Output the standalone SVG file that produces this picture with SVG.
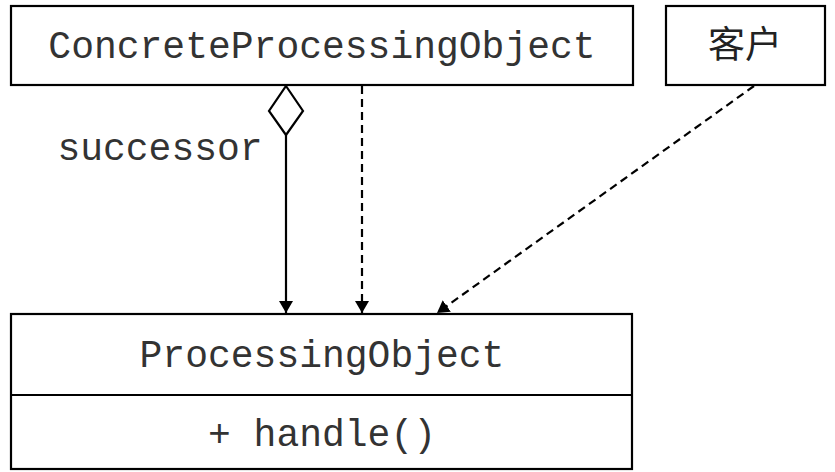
<svg xmlns="http://www.w3.org/2000/svg" width="835" height="472" viewBox="0 0 835 472">
<style>
.box{fill:#fff;stroke:#000;stroke-width:2.2}
.t{font-family:"Liberation Mono","Courier New",monospace;font-size:38px;fill:#333;text-anchor:middle}
.cjk{font-family:"Liberation Serif","Noto Sans CJK SC",serif;font-size:37px;fill:#222;text-anchor:middle}
.line{fill:none;stroke:#000;stroke-width:2.2}
.dash{stroke-dasharray:8 5}
</style>
<defs>
<marker id="arr" markerWidth="12" markerHeight="14" refX="12" refY="7" orient="auto" markerUnits="userSpaceOnUse">
<path d="M0,0 L12,7 L0,14 Z" fill="#000"/>
</marker>
</defs>
<rect width="835" height="472" fill="#fff"/>
<g id="concrete">
<rect class="box" x="11" y="6" width="622" height="79"/>
<text class="t" x="322" y="58">ConcreteProcessingObject</text>
</g>
<g id="client">
<rect class="box" x="666" y="6" width="159" height="79"/>
<text class="cjk" x="745" y="58">客户</text>
</g>
<g id="processing">
<rect class="box" x="11" y="314" width="621" height="155"/>
<line class="line" x1="11" y1="395" x2="632" y2="395"/>
<text class="t" x="322" y="367">ProcessingObject</text>
<text class="t" x="322" y="446">+ handle()</text>
</g>
<g id="connectors">
<path class="line" d="M286,86 L303,111 L286,135 L269,111 Z" fill="#fff"/>
<line class="line" x1="286" y1="135" x2="286" y2="313" marker-end="url(#arr)"/>
<text class="t" x="160" y="160">successor</text>
<line class="line dash" x1="362" y1="86" x2="362" y2="313" marker-end="url(#arr)"/>
<line class="line dash" x1="754" y1="86" x2="437" y2="313" marker-end="url(#arr)"/>
</g>
</svg>
